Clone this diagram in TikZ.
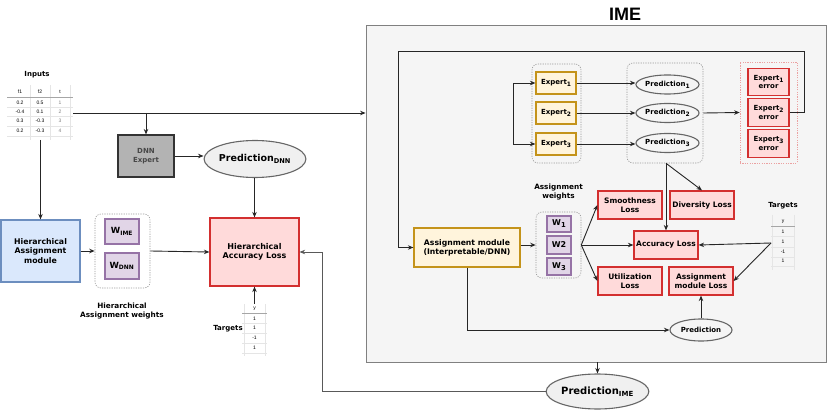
\documentclass[tikz,border=0pt]{standalone}
\usepackage{fontspec}
\usepackage{graphicx}
\setmainfont{DejaVu Sans}
\newfontfamily\arialf{Liberation Sans}
\usetikzlibrary{arrows.meta,shapes.geometric}
\newcommand\mysb[1]{\raisebox{-0.45ex}{\scalebox{0.85}{#1}}}
\definecolor{imebg}{HTML}{F5F5F5}
\definecolor{imeln}{HTML}{808080}
\definecolor{goldln}{HTML}{C4931A}
\definecolor{goldbg}{HTML}{FFF4DC}
\definecolor{redln}{HTML}{D32F2F}
\definecolor{redbg}{HTML}{FFDADA}
\definecolor{purln}{HTML}{9673A6}
\definecolor{purbg}{HTML}{E1D5E7}
\definecolor{bluln}{HTML}{6C8EBF}
\definecolor{blubg}{HTML}{DAE8FC}
\definecolor{dnnbg}{HTML}{B3B3B3}
\definecolor{elln}{HTML}{666666}
\definecolor{elbg}{HTML}{F0F0F0}
\tikzset{
  fs/.style={font=\bfseries\fontsize{#1}{\fpeval{1.2*#1}}\selectfont},
  every node/.style={align=center, inner sep=1pt, fs=7.5},
  arr/.style={-{Stealth[length=5.5pt,width=4.5pt]}, line width=0.9pt, draw=black!85},
  gbox/.style={draw=goldln, fill=goldbg, line width=1.2pt},
  rbox/.style={draw=redln, fill=redbg, line width=1.2pt},
  pbox/.style={draw=purln, fill=purbg, line width=1.2pt},
  bbox/.style={draw=bluln, fill=blubg, line width=1.2pt},
  grp/.style={draw=gray!80, dash pattern=on 1.2pt off 1.2pt, line width=0.6pt, rounded corners=6pt},
  ell/.style={ellipse, draw=elln, line width=1.1pt, inner sep=0pt},
  tabt/.style={font=\arialf\fontsize{5}{5.5}\selectfont, inner sep=0pt},
  grid/.style={draw=gray!20, line width=0.4pt},
}
\begin{document}
\begin{tikzpicture}[x=1pt,y=-1pt]
\useasboundingbox (0,0) rectangle (830,414);

% IME container
\node[draw=imeln, fill=imebg, line width=0.8pt, minimum width=460pt, minimum height=337pt, inner sep=0pt] (ime) at (596,193.5) {};
\node[font=\arialf\bfseries\fontsize{18}{20}\selectfont] (imet) at (625,14) {IME};

% Inputs table
\node[fs=7] (inl) at (37,75) {Inputs};
\node[minimum width=66pt, minimum height=55pt, inner sep=0pt] (intab) at (40,112.5) {};
\foreach \x in {30,50,70} \draw[grid] (\x,85) -- (\x,140);
\foreach \y in {107,116,126,136} \draw[grid] (7,\y) -- (73,\y);
\draw[draw=gray!70, line width=0.5pt] (7,97) -- (73,97);
\foreach \c/\x/\t in {1/20/f1,2/40/f2,3/60/t} \node[tabt] (inh\c) at (\x,92) {\t};
\foreach \r/\y/\a/\b/\cc in {1/103/0.2/0.5/1, 2/112/-0.4/0.1/2, 3/121/0.3/-0.3/3, 4/131/0.2/-0.3/4}{
  \node[tabt] (in\r a) at (20,\y) {\a};
  \node[tabt] (in\r b) at (40,\y) {\b};
  \node[tabt, text=gray] (in\r c) at (60,\y) {\cc};
}

% left part
\node[draw=black!80, fill=dnnbg, line width=1.1pt, minimum width=56pt, minimum height=42pt, text=black!72, fs=7] (dnn) at (146,156) {DNN\\Expert};
\node[ell, fill=elbg, minimum width=84pt, minimum height=37pt, fs=9.5] (pdnn) at (255,159) {Prediction\textsubscript{DNN}};
\node[rbox, minimum width=89pt, minimum height=68pt, fs=8] (hal) at (254.5,252) {Hierarchical\\Accuracy Loss};
\node[bbox, minimum width=79pt, minimum height=62pt, fs=7.8] (ham) at (40.5,251) {Hierarchical\\Assignment\\module};
\node[grp, minimum width=55pt, minimum height=74pt] (hgrp) at (122.5,251) {};
\node[pbox, minimum width=34pt, minimum height=25pt, fs=8.5] (wime) at (122,231.5) {W\textsubscript{IME}};
\node[pbox, minimum width=34pt, minimum height=26pt, fs=8.5] (wdnn) at (122,266) {W\textsubscript{DNN}};
\node[fs=7.3] (hawl) at (122,311) {Hierarchical\\Assignment weights};

% left targets table
\node[fs=7] (tgl) at (228,329) {Targets};
\node[minimum width=26pt, minimum height=52pt, inner sep=0pt] (ttabL) at (254.5,330) {};
\foreach \x in {244,265} \draw[grid] (\x,304) -- (\x,356);
\foreach \y in {323,333,343,353} \draw[grid] (242,\y) -- (267,\y);
\draw[draw=gray!70, line width=0.5pt] (242,313) -- (267,313);
\node[tabt] (tlh) at (254.5,309) {y};
\foreach \r/\y/\v in {1/319/1,2/328/1,3/338/-1,4/348/1} \node[tabt] (tl\r) at (254.5,\y) {\v};

% inputs connectors
\coordinate (inR) at (73,113);
\coordinate (inB) at (40.5,140);
\draw[arr] (inR) -- (inR -| ime.west);
\draw[arr] (inR -| dnn.north) -- (dnn.north);
\draw[arr] (inB) -- (ham.north);
\draw[arr] (dnn.east) -- (dnn.east -| pdnn.west);
\draw[arr] (pdnn.south -| hal.north) -- (hal.north);
\draw[arr] (ham.east) -- (hgrp.west);
\draw[arr] (hgrp.east) -- (hal.west);
\draw[arr] (ttabL.north) -- (hal.south);

% IME interior: experts
\node[grp, minimum width=49pt, minimum height=99pt] (egrp) at (556.5,113.5) {};
\node[gbox, minimum width=40pt, minimum height=22pt, fs=7] (e1) at (556,83) {Expert\mysb{1}};
\node[gbox, minimum width=40pt, minimum height=22pt, fs=7] (e2) at (556,113) {Expert\mysb{2}};
\node[gbox, minimum width=40pt, minimum height=22pt, fs=7] (e3) at (556,144) {Expert\mysb{3}};
\draw[{Stealth[length=5.5pt,width=4.5pt]}-{Stealth[length=5.5pt,width=4.5pt]}, line width=0.9pt, draw=black!85] (e1.west) -- ++(-22,0) |- (e3.west);

\node[grp, minimum width=76pt, minimum height=100pt] (pgrp) at (665,113) {};
\node[ell, minimum width=63pt, minimum height=19pt, fs=7] (p1) at (667.5,84.5) {Prediction\mysb{1}};
\node[ell, minimum width=63pt, minimum height=19pt, fs=7] (p2) at (667.5,113) {Prediction\mysb{2}};
\node[ell, minimum width=63pt, minimum height=19pt, fs=7] (p3) at (667.5,143) {Prediction\mysb{3}};
\draw[arr] (e1.east) -- (e1.east -| p1.west);
\draw[arr] (e2.east) -- (e2.east -| p2.west);
\draw[arr] (e3.east) -- (e3.east -| p3.west);

\node[draw=redln!45, dash pattern=on 1.2pt off 1.2pt, line width=0.7pt, minimum width=57pt, minimum height=101pt] (errgrp) at (768.5,112.5) {};
\node[rbox, minimum width=41pt, minimum height=27pt, fs=7] (er1) at (768.5,82) {Expert\mysb{1}\\error};
\node[rbox, minimum width=41pt, minimum height=28pt, fs=7] (er2) at (768.5,112.5) {Expert\mysb{2}\\error};
\node[rbox, minimum width=41pt, minimum height=28pt, fs=7] (er3) at (768.5,143.5) {Expert\mysb{3}\\error};
\draw[arr] (pgrp.east) -- (errgrp.west);

% assignment module
\node[gbox, minimum width=106pt, minimum height=39pt, fs=7.7] (am) at (467,247.5) {Assignment module\\(Interpretable/DNN)};
\coordinate (fbA) at (804,51);
\coordinate (fbB) at (398,51);
\draw[arr] (er2.east) -| (fbA) -- (fbB) |- (am.west);

\node[fs=7.3] (awl) at (558.5,192) {Assignment\\weights};
\node[grp, minimum width=45pt, minimum height=66pt] (wgrp) at (558.5,245) {};
\node[pbox, minimum width=24pt, minimum height=16pt, fs=8] (w1) at (559,224) {W\mysb{1}};
\node[pbox, minimum width=24pt, minimum height=18pt, fs=8] (w2) at (559,245) {W2};
\node[pbox, minimum width=24pt, minimum height=17pt, fs=8] (w3) at (559,266.5) {W\mysb{3}};
\draw[arr] (am.east |- wgrp.west) -- (wgrp.west);

% losses
\node[rbox, minimum width=64pt, minimum height=28pt] (smo) at (630,205) {Smoothness\\Loss};
\node[rbox, minimum width=64pt, minimum height=28pt] (div) at (702,205) {Diversity Loss};
\node[rbox, minimum width=64pt, minimum height=28pt] (acc) at (666,245) {Accuracy Loss};
\node[rbox, minimum width=64pt, minimum height=28pt] (uti) at (630,281) {Utilization\\Loss};
\node[rbox, minimum width=64pt, minimum height=28pt] (aml) at (701,281) {Assignment\\module Loss};

\draw[arr] (wgrp.east) -- (smo.west);
\draw[arr] (wgrp.east) -- (acc.west);
\draw[arr] (wgrp.east) -- (uti.west);
\coordinate (pbot) at (acc.north |- pgrp.south);
\draw[arr] (pbot) -- (acc.north);
\draw[arr] (pbot) -- (div.north);

% right targets table
\node[fs=7] (tgr) at (783,206) {Targets};
\node[minimum width=24pt, minimum height=50pt, inner sep=0pt] (ttabR) at (783,246) {};
\foreach \x in {772,794} \draw[grid] (\x,215) -- (\x,270);
\foreach \y in {236,247,257,266} \draw[grid] (771,\y) -- (795,\y);
\draw[draw=gray!70, line width=0.5pt] (771,226) -- (795,226);
\node[tabt] (trh) at (783,222) {y};
\foreach \r/\y/\v in {1/232/1,2/242/1,3/252/-1,4/261/1} \node[tabt] (tr\r) at (783,\y) {\v};
\coordinate (tR) at (771,243);
\draw[arr] (tR) -- (acc.east);
\draw[arr] (tR) -- (aml.east);

% prediction
\node[ell, minimum width=62pt, minimum height=22pt, fs=7] (pred) at (701,330) {Prediction};
\draw[arr] (pred.north) -- (aml.south);
\draw[arr] (am.south) |- (pred.west);

% Prediction IME
\node[ell, fill=elbg, minimum width=101pt, minimum height=35pt, fs=10] (pime) at (597.5,391.5) {Prediction\textsubscript{IME}};
\draw[arr] (pime.north |- ime.south) -- (pime.north);
\coordinate (fbL) at (322,391.5);
\draw[arr, draw=black!65, line width=0.6pt] (pime.west) -- (fbL) |- (hal.east);
\end{tikzpicture}
\end{document}
